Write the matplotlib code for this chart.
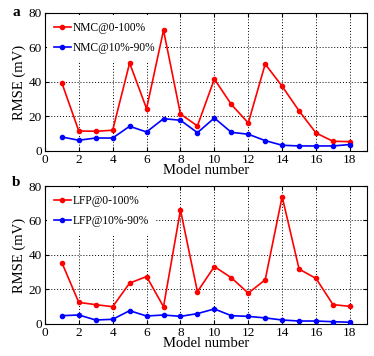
import matplotlib
matplotlib.use("Agg")
import matplotlib.pyplot as plt

plt.rcParams['font.family'] = ['Liberation Serif', 'DejaVu Serif']

models = list(range(1, 19))
nmc_full = [39.5, 11.6, 11.4, 12.0, 51.0, 24.5, 70.0, 21.4, 14.5, 41.7, 27.0, 16.2, 50.4, 37.5, 23.2, 10.4, 5.6, 5.4]
nmc_mid = [8.1, 6.2, 7.5, 7.5, 14.3, 11.0, 18.7, 17.8, 10.6, 19.1, 10.8, 9.7, 6.0, 3.3, 2.9, 2.9, 2.9, 3.7]
lfp_full = [35.6, 12.5, 11.2, 10.0, 23.7, 27.5, 10.0, 66.1, 18.7, 33.3, 26.8, 17.9, 25.6, 73.8, 31.8, 26.4, 11.2, 10.2]
lfp_mid = [4.8, 5.2, 2.3, 2.7, 7.7, 4.6, 5.2, 4.4, 6.0, 8.7, 4.8, 4.4, 3.5, 2.3, 1.7, 1.7, 1.3, 1.0]

panels = [
    ("a", nmc_full, nmc_mid, ["NMC@0-100%", "NMC@10%-90%"]),
    ("b", lfp_full, lfp_mid, ["LFP@0-100%", "LFP@10%-90%"]),
]
xticks = list(range(0, 19, 2))
yticks = [0, 20, 40, 60, 80]

fig = plt.figure(figsize=(3.74, 3.56), dpi=100)
rects = [[0.120, 0.576, 0.861, 0.3875], [0.120, 0.090, 0.861, 0.3875]]
tag_y = [1 - 13 / 356, 1 - 183 / 356]

for rect, ty, (tag, full, mid, labels) in zip(rects, tag_y, panels):
    ax = fig.add_axes(rect)
    ax.plot(models, full, color='#ff0000', marker='o', markersize=3, lw=1.2, label=labels[0], zorder=4)
    ax.plot(models, mid, color='#0000ff', marker='o', markersize=3, lw=1.2, label=labels[1], zorder=4)
    ax.set_xlim(0, 19)
    ax.set_ylim(0, 80)
    ax.set_xticks(xticks)
    ax.set_yticks(yticks)
    ax.grid(True, color='black', linestyle=(0, (1, 2)), lw=0.7)
    ax.tick_params(direction='in', labelsize=9.5, length=3, top=True, right=True, pad=2)
    ax.set_xlabel("Model number", fontsize=10.5, labelpad=-1)
    ax.set_ylabel("RMSE (mV)", fontsize=10.5, labelpad=2)
    leg = ax.legend(loc='upper left', fontsize=8.3, frameon=True, handlelength=1.5,
                    handletextpad=0.2, borderaxespad=0.15, labelspacing=0.75,
                    borderpad=0.6, fancybox=False)
    leg.get_frame().set_edgecolor('none')
    leg.get_frame().set_alpha(1.0)
    leg.set_zorder(2)
    for s in ax.spines.values():
        s.set_linewidth(0.8)
    fig.text(12 / 374, ty, tag, fontsize=11, fontweight='bold', ha='left', va='center')

fig.savefig("out.png", dpi=100)
